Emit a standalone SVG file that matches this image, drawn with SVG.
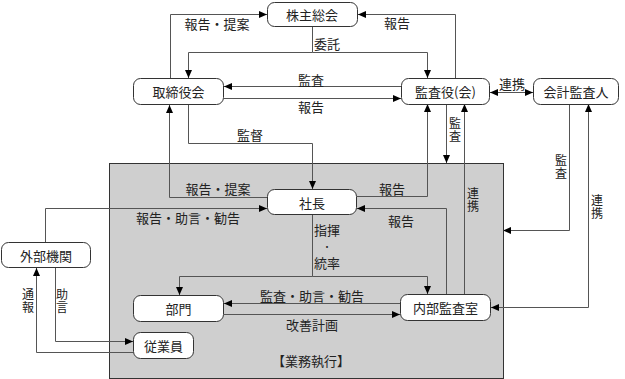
<svg xmlns="http://www.w3.org/2000/svg" width="625" height="379" viewBox="0 0 625 379">
<defs>
<marker id="ah" viewBox="0 0 8 8" refX="8" refY="4" markerWidth="8" markerHeight="8" markerUnits="userSpaceOnUse" orient="auto-start-reverse">
<path d="M0,0.5 L8,4 L0,7.5 Z" fill="#000"/>
</marker>
<style>
.box{fill:#fff;stroke:#333;stroke-width:1}
.t{font-family:"Noto Sans CJK JP","Noto Sans",sans-serif;font-size:13px;fill:#222;text-anchor:middle;dominant-baseline:central}
.d{font-size:9px}
.v{font-family:"Noto Sans CJK JP","Noto Sans",sans-serif;font-size:12px;fill:#222;text-anchor:middle;writing-mode:vertical-rl;letter-spacing:1px}
.c{fill:none;stroke:#555;stroke-width:1}
.a{marker-end:url(#ah)}
.b{marker-start:url(#ah);marker-end:url(#ah)}
</style>
</defs>
<rect id="gyomu" x="109.5" y="163.5" width="394" height="215" fill="#cfcfcf" stroke="#333" stroke-width="1"/>
<g id="connectors">
<path class="c a" d="M170.5,78 V14.5 H267"/>
<path class="c a" d="M455.5,78 V14.5 H358"/>
<path class="c" d="M312.5,26 V52.5"/>
<path class="c a" d="M312.5,52.5 H188.5 V78"/>
<path class="c a" d="M312.5,52.5 H427.5 V78"/>
<path class="c a" d="M401,86.5 H224"/>
<path class="c a" d="M224,98.5 H401"/>
<path class="c b" d="M490,92.5 H533"/>
<path class="c a" d="M188.5,105 V143.5 H312.5 V189"/>
<path class="c a" d="M267,197.5 H169.5 V105"/>
<path class="c a" d="M45.5,242 V208.5 H267"/>
<path class="c a" d="M357,196.5 H427.5 V104"/>
<path class="c a" d="M446.5,294 V208.5 H357"/>
<path class="c a" d="M446.5,104 V163"/>
<path class="c a" d="M464.5,294 V104"/>
<path class="c a" d="M569.5,104 V230.5 H503"/>
<path class="c b" d="M491,307.5 H588.5 V104"/>
<path class="c" d="M312.5,215 V276.5"/>
<path class="c a" d="M312.5,276.5 H179.5 V295"/>
<path class="c a" d="M312.5,276.5 H427.5 V294"/>
<path class="c a" d="M400,303.5 H224"/>
<path class="c a" d="M224,314.5 H400"/>
<path class="c a" d="M55.5,268 V341.5 H133"/>
<path class="c a" d="M133,352.5 H36.5 V268"/>
</g>
<g id="kabunushi"><rect class="box" x="267.5" y="2.5" width="90" height="24" rx="7"/><text class="t" x="312" y="14.5">株主総会</text></g>
<g id="torishimari"><rect class="box" x="133.5" y="78.5" width="90" height="26" rx="7"/><text class="t" x="178.5" y="91.5">取締役会</text></g>
<g id="kansayaku"><rect class="box" x="401.5" y="78.5" width="88" height="26" rx="7"/><text class="t" x="445.5" y="91.5">監査役(会)</text></g>
<g id="kaikei"><rect class="box" x="533.5" y="78.5" width="85" height="26" rx="7"/><text class="t" x="576" y="91.5">会計監査人</text></g>
<g id="shacho"><rect class="box" x="267.5" y="189.5" width="89" height="25" rx="7"/><text class="t" x="312" y="202">社長</text></g>
<g id="gaibu"><rect class="box" x="1.5" y="242.5" width="89" height="25" rx="7"/><text class="t" x="46" y="255">外部機関</text></g>
<g id="bumon"><rect class="box" x="133.5" y="295.5" width="90" height="26" rx="7"/><text class="t" x="178.5" y="308.5">部門</text></g>
<g id="jugyoin"><rect class="box" x="133.5" y="332.5" width="60" height="26" rx="7"/><text class="t" x="163.5" y="345.5">従業員</text></g>
<g id="naibu"><rect class="box" x="400.5" y="294.5" width="90" height="26" rx="7"/><text class="t" x="445.5" y="307.5">内部監査室</text></g>
<g id="labels">
<text class="t" x="217" y="23">報告・提案</text>
<text class="t" x="397" y="22">報告</text>
<text class="t" x="327" y="43">委託</text>
<text class="t" x="311" y="79">監査</text>
<text class="t" x="311" y="106">報告</text>
<text class="t" x="512" y="83">連携</text>
<text class="t" x="250" y="134">監督</text>
<text class="t" x="218" y="188">報告・提案</text>
<text class="t" x="392" y="188">報告</text>
<text class="t" x="401" y="220">報告</text>
<text class="t" x="188" y="217">報告・助言・勧告</text>
<text class="t" x="327" y="229.5">指揮</text>
<text class="t d" x="327" y="246">・</text>
<text class="t" x="327" y="262.5">統率</text>
<text class="t" x="312" y="295">監査・助言・勧告</text>
<text class="t" x="312" y="324">改善計画</text>
<text class="t" x="311" y="360">【業務執行】</text>
<text class="v" x="455" y="130">監査</text>
<text class="v" x="473" y="200">連携</text>
<text class="v" x="561" y="167">監査</text>
<text class="v" x="597" y="207">連携</text>
<text class="v" x="28" y="301">通報</text>
<text class="v" x="62" y="301">助言</text>
</g>
</svg>
